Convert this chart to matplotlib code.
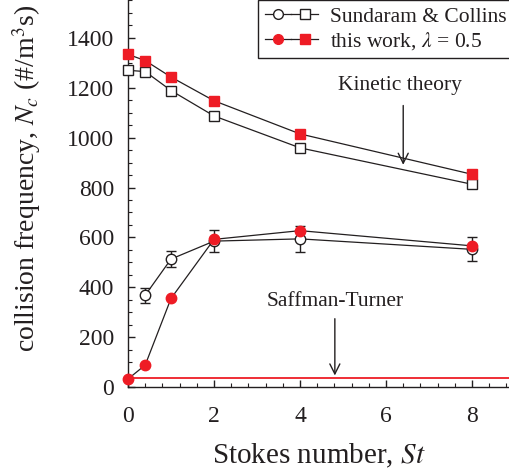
import matplotlib
matplotlib.use("Agg")
import matplotlib.pyplot as plt
from matplotlib.lines import Line2D
from matplotlib.legend_handler import HandlerTuple
from matplotlib.ticker import MultipleLocator

plt.rcParams['font.family'] = ['Liberation Serif', 'DejaVu Serif']
plt.rcParams['mathtext.fontset'] = 'stix'

# Stokes numbers
st_kin = [0, 0.4, 1, 2, 4, 8]
st_dns = [0.4, 1, 2, 4, 8]
st_this = [0, 0.4, 1, 2, 4, 8]

# kinetic theory (squares)
kin_sc = [1270, 1265, 1189, 1087, 959, 813]
kin_this = [1334, 1309, 1243, 1148, 1015, 853]

# DNS / simulation (circles)
dns_sc = [368, 513, 585, 594, 552]
dns_sc_err = [30, 33, 44, 53, 48]
dns_this = [32, 88, 355, 592, 627, 566]

saffman_turner = 35

ink = '#231f20'
red = '#ee1c25'

fig = plt.figure(figsize=(5.09, 4.76), dpi=100)
ax = fig.add_axes([0.2515, 0.187, 0.7485, 0.813])

ax.axhline(saffman_turner, color=red, lw=1.3, zorder=1)

ax.plot(st_kin, kin_sc, '-', color=ink, lw=0.9, marker='s', ms=7,
        mfc='white', mec=ink, mew=1.0, clip_on=False, zorder=3)
ax.plot(st_kin, kin_this, '-', color=ink, lw=0.9, marker='s', ms=7,
        mfc=red, mec=red, clip_on=False, zorder=4)

ax.errorbar(st_dns, dns_sc, yerr=dns_sc_err, fmt='-o', color=ink, lw=0.9,
            elinewidth=1.0, capsize=3.5, capthick=1.0, ms=7.5, mfc='white',
            mec=ink, mew=1.0, zorder=3)
ax.plot(st_this, dns_this, '-', color=ink, lw=0.9, marker='o', ms=7.5,
        mfc=red, mec=red, clip_on=False, zorder=4)

ax.set_xlim(0, 8.86)
ax.set_ylim(0, 1552)
ax.xaxis.set_major_locator(MultipleLocator(2))
ax.xaxis.set_minor_locator(MultipleLocator(0.4))
ax.yaxis.set_major_locator(MultipleLocator(200))
ax.yaxis.set_minor_locator(MultipleLocator(50))
ax.tick_params(which='both', direction='in', colors=ink, labelsize=17,
               top=False, right=False)
ax.tick_params(which='major', length=5, width=1.0)
ax.tick_params(which='minor', length=3, width=0.8)
ax.tick_params(axis='y', pad=10)
ax.tick_params(axis='x', pad=14)
for side in ['top', 'right']:
    ax.spines[side].set_visible(False)
for side in ['left', 'bottom']:
    ax.spines[side].set_linewidth(1.0)
    ax.spines[side].set_color(ink)

ax.set_xlabel('Stokes number, $St$', fontsize=21, color=ink, labelpad=10)
ax.set_ylabel('collision frequency, $N_c$ (#/m$^3$s)', fontsize=20,
              color=ink)
ax.yaxis.set_label_coords(-0.222, 0.54)

# annotations
ax.text(6.33, 1210, 'Kinetic theory', fontsize=15.5, color=ink,
        ha='center', va='center')
ax.annotate('', xy=(6.4, 880), xytext=(6.4, 1140),
            arrowprops=dict(arrowstyle='->', color=ink, lw=1.0,
                            mutation_scale=18))
ax.text(4.81, 342, 'Saffman-Turner', fontsize=15.5, color=ink,
        ha='center', va='center')
ax.annotate('', xy=(4.81, saffman_turner), xytext=(4.81, 285),
            arrowprops=dict(arrowstyle='->', color=ink, lw=1.0,
                            mutation_scale=18))

# legend with circle + square handles
h_sc = (Line2D([], [], color=ink, lw=0.9, marker='o', ms=7, mfc='white', mec=ink),
        Line2D([], [], color=ink, lw=0.9, marker='s', ms=6.5, mfc='white', mec=ink))
h_this = (Line2D([], [], color=ink, lw=0.9, marker='o', ms=7, mfc=red, mec=red),
          Line2D([], [], color=ink, lw=0.9, marker='s', ms=6.5, mfc=red, mec=red))
leg = ax.legend([h_sc, h_this], ['Sundaram & Collins', r'this work, $\lambda$ = 0.5'],
                handler_map={tuple: HandlerTuple(ndivide=None, pad=0)},
                loc='upper left', bbox_to_anchor=(0.507, 1.0),
                bbox_transform=fig.transFigure, borderaxespad=0,
                fontsize=15.5, handlelength=2.5, handletextpad=0.55,
                borderpad=0.3, labelspacing=0.15, fancybox=False,
                framealpha=1, edgecolor=ink, numpoints=1)
leg.get_frame().set_linewidth(1.0)
for t in leg.get_texts():
    t.set_color(ink)

fig.savefig('out.png', dpi=100)
